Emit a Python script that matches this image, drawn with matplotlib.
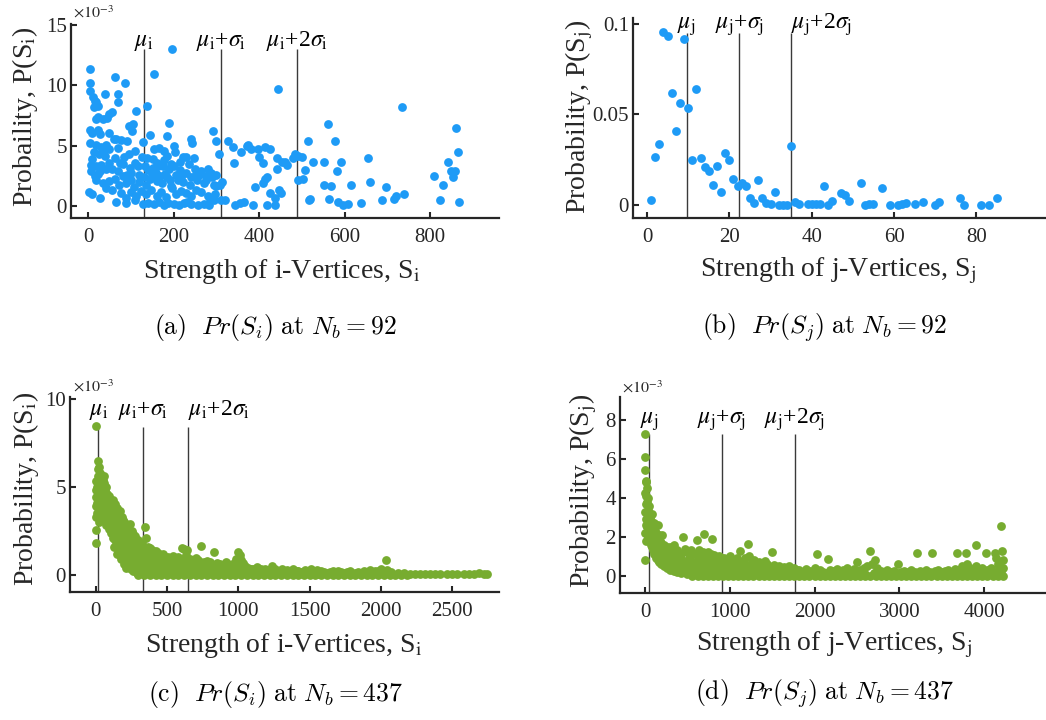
import numpy as np
import matplotlib.pyplot as plt

plt.rcParams['font.family'] = ['Liberation Serif', 'DejaVu Serif']
plt.rcParams['mathtext.fontset'] = 'stix'

W, H = 1046, 720
BLUE = '#1e9bf6'
GREEN = '#77ac30'
INK = '#262626'

# (S, P x 1e3) for i-vertices, Nb = 92
si_92 = [
    (196, 13.0), (5, 11.3), (155, 10.9), (63, 10.7), (86, 10.2), (4, 10.2), (4, 9.5), (445, 9.7), (735, 8.2),
    (12, 9.0), (16, 8.7), (22, 8.3), (14, 8.2), (19, 8.6), (40, 9.3), (71, 9.3), (71, 8.6), (137, 8.3), (112, 7.9),
    (57, 7.8), (50, 7.6), (44, 7.3), (36, 7.2), (24, 7.4), (19, 7.2), (190, 6.9), (106, 6.8), (96, 6.6), (102, 6.2),
    (4, 6.3), (10, 6.1), (24, 6.3), (27, 6.0), (48, 6.1), (65, 5.6), (145, 5.9), (184, 5.8), (202, 5.0), (240, 5.6),
    (243, 5.2), (291, 6.2), (327, 5.4), (339, 4.9), (358, 4.5), (371, 5.0), (306, 4.3), (300, 5.4), (560, 6.8),
    (860, 6.5), (514, 5.4), (577, 5.4), (5, 5.2), (18, 5.1), (30, 4.9), (42, 5.1), (50, 4.7), (34, 4.5), (26, 4.3),
    (14, 4.5), (128, 5.3), (155, 4.7), (165, 4.8), (178, 4.6), (204, 4.5), (222, 4.1), (228, 4.1), (248, 4.0),
    (126, 4.1), (138, 4.0), (151, 3.9), (375, 5.1), (381, 4.7), (397, 4.7), (414, 4.9), (426, 4.7), (400, 4.1),
    (408, 3.6), (441, 4.0), (453, 3.7), (465, 3.4), (460, 3.7), (480, 4.0), (485, 4.3), (492, 4.2), (500, 4.1),
    (526, 3.7), (552, 3.7), (592, 3.7), (581, 2.9), (508, 3.0), (492, 2.2), (502, 2.3), (655, 4.0), (660, 2.0),
    (614, 1.8), (552, 1.8), (567, 1.7), (696, 1.6), (414, 2.3), (418, 2.4), (410, 1.9), (390, 1.6), (425, 1.1),
    (436, 0.7), (447, 1.4), (450, 1.1), (441, 3.1), (365, 0.4), (385, 0.1), (418, 0.1), (437, 0.1), (517, 0.5),
    (520, 0.6), (564, 0.6), (584, 0.4), (597, 0.1), (607, 0.2), (638, 0.3), (687, 0.5), (716, 0.6), (720, 0.9),
    (739, 1.0), (808, 2.5), (824, 0.5), (831, 1.8), (841, 3.7), (849, 2.9), (857, 2.9), (853, 2.4), (864, 4.5),
    (868, 0.4), (341, 3.6),
    (6, 3.4), (18, 3.3), (30, 3.4), (6, 2.9), (22, 2.7), (42, 3.1), (57, 3.1), (69, 2.9), (50, 3.6), (85, 4.1),
    (81, 3.5), (97, 3.2), (116, 3.3), (132, 3.3), (140, 3.0), (151, 3.2), (163, 3.3), (174, 3.3), (190, 3.1),
    (202, 3.3), (214, 3.0), (230, 2.8), (250, 3.1), (265, 2.9), (281, 3.1), (288, 2.8), (276, 2.5),
    (18, 2.2), (34, 1.9), (50, 2.1), (64, 2.3), (73, 1.8), (81, 2.5), (89, 1.9), (100, 2.2), (108, 1.6), (120, 2.0),
    (135, 1.8), (145, 2.3), (160, 2.1), (172, 1.9), (185, 2.4), (195, 1.7), (210, 2.2), (222, 2.0), (238, 1.8),
    (255, 2.2), (270, 1.9), (295, 1.8),
    (2, 1.2), (8, 1.0), (27, 0.7), (42, 1.5), (57, 1.4), (77, 1.1), (89, 0.7), (100, 1.2), (112, 0.9),
    (124, 1.3), (135, 1.0), (148, 1.4), (160, 0.9), (171, 1.2), (183, 0.8), (196, 1.5), (206, 1.0), (218, 1.3),
    (230, 1.1), (241, 0.9), (253, 1.4), (265, 1.2), (280, 0.9), (296, 1.0), (300, 1.7), (308, 1.8),
    (65, 0.4), (89, 0.3), (110, 0.5), (128, 0.2), (141, 0.3), (155, 0.2), (165, 0.4), (177, 0.1), (188, 0.3),
    (200, 0.2), (212, 0.1), (225, 0.3), (241, 0.2), (258, 0.1), (270, 0.2), (282, 0.1), (295, 0.5), (310, 0.5),
    (320, 0.5), (344, 0.1), (356, 0.3), (285, 0.6), (232, 0.4),
    (110, 3.6), (120, 2.6), (130, 2.4), (150, 2.6), (158, 2.8), (168, 2.5), (180, 2.7), (192, 2.2), (205, 2.6),
    (218, 2.4), (100, 2.8), (90, 2.6), (75, 3.6), (62, 4.0), (40, 4.2), (10, 3.9), (15, 2.5), (28, 2.9),
    (110, 4.6), (95, 4.3), (70, 4.8), (60, 5.6), (78, 5.5), (90, 5.4), (160, 3.6), (178, 3.8), (195, 3.5),
    (185, 4.2), (215, 3.7), (235, 3.5), (260, 2.6), (275, 2.2), (290, 2.4), (250, 2.5), (240, 2.4), (300, 2.6),
    (313, 2.0),
]

# (S, P) for j-vertices, Nb = 92
sj_92 = [
    (1, 0.0029), (2, 0.0263), (3, 0.0337), (4, 0.0954), (5, 0.0936), (6, 0.0617), (7, 0.041), (8, 0.0564),
    (9, 0.0917), (10, 0.0538), (11, 0.025), (12, 0.064), (13, 0.0258), (14, 0.0212), (15, 0.0186), (16, 0.011),
    (17, 0.0217), (18, 0.0070), (19, 0.0287), (20, 0.025), (21, 0.0144), (22, 0.0107), (23, 0.012), (24, 0.0103),
    (25, 0.0037), (26, 0.0011), (27, 0.0136), (28, 0.0037), (29, 0.0009), (30, 0.0006), (31, 0.0070), (32, 0.0),
    (33, 0.0), (34, 0.0), (35, 0.0328), (36, 0.0015), (37, 0.0004), (39, 0.0008), (40, 0.0004), (41, 0.0004),
    (42, 0.0008), (43, 0.0107), (44, 0.0), (45, 0.0022), (47, 0.0064), (48, 0.0057), (49, 0.0022), (52, 0.0122),
    (53, 0.0), (54, 0.0004), (55, 0.0004), (57, 0.0096), (59, 0.0), (61, 0.0), (62, 0.0004), (63, 0.0009),
    (65, 0.0004), (67, 0.0015), (70, 0.0), (71, 0.0015), (76, 0.0037), (77, 0.0), (81, 0.0), (83, 0.0),
    (85, 0.0038),
]

# (S, P x 1e3) for i-vertices, Nb = 437
si_437 = [
    (0, 8.44), (14, 6.47), (19, 6.0), (25, 6.1), (33, 5.8), (42, 5.6), (50, 5.4), (55, 5.6), (60, 5.2), (0, 5.3),
    (0, 4.4), (2, 3.9), (0, 3.3), (0, 2.55), (0, 1.8), (5, 4.8), (8, 4.1), (10, 3.5), (12, 5.0), (18, 4.6),
    (22, 5.3), (28, 4.9), (35, 5.1), (45, 5.0), (65, 4.8), (72, 5.0), (80, 4.6), (88, 4.4), (95, 4.5), (105, 4.1),
    (115, 3.9), (124, 4.25), (132, 4.0), (140, 3.7), (150, 3.8), (160, 3.5), (170, 3.6), (181, 3.3), (190, 3.1),
    (200, 3.0), (210, 2.9), (220, 2.7), (230, 2.8), (240, 2.9), (252, 2.5), (262, 2.3), (275, 2.2), (288, 1.9),
    (300, 2.0), (310, 1.8), (322, 1.8), (345, 2.74), (353, 2.08), (365, 1.6), (380, 1.5), (395, 1.4), (410, 1.3),
    (425, 1.35), (439, 1.22), (455, 1.1), (470, 1.2), (485, 1.0), (497, 0.85), (510, 1.0), (525, 0.95),
    (540, 1.05), (560, 0.9), (580, 1.0), (603, 1.5), (620, 1.45), (638, 1.4), (660, 0.9), (680, 0.8), (700, 0.95),
    (720, 0.85), (738, 1.65), (760, 0.7), (780, 0.8), (800, 0.75), (829, 1.32), (848, 0.66), (870, 0.6),
    (890, 0.55), (910, 0.7), (930, 0.6), (950, 0.5), (970, 0.65), (985, 0.9), (1000, 1.3), (1012, 1.1),
    (1020, 0.85), (1030, 0.66), (1045, 0.5), (1070, 0.4), (1100, 0.35), (1130, 0.45), (1160, 0.3), (1190, 0.35),
    (1236, 0.5), (1260, 0.3), (1306, 0.3), (1340, 0.25), (1380, 0.3), (1420, 0.2), (1470, 0.25), (1510, 0.35),
    (1530, 0.2), (1580, 0.2), (1640, 0.15), (1700, 0.2), (1760, 0.15), (1820, 0.1), (1880, 0.2), (1920, 0.25),
    (1960, 0.2), (2000, 0.3), (2032, 0.83), (2045, 0.25),
    (20, 3.0), (25, 3.8), (30, 4.3), (35, 3.6), (40, 4.0), (45, 3.3), (50, 4.5), (55, 3.9), (60, 3.1), (65, 4.1),
    (70, 3.5), (75, 2.8), (80, 3.9), (85, 3.2), (90, 2.6), (95, 3.7), (100, 3.0), (105, 2.4), (110, 3.4),
    (115, 2.7), (120, 2.1), (125, 3.2), (130, 1.6), (135, 2.5), (140, 3.0), (145, 1.9), (150, 1.2), (155, 2.8),
    (160, 2.2), (165, 1.5), (170, 2.9), (175, 0.9), (180, 2.0), (185, 1.3), (190, 2.5), (195, 0.6), (200, 1.7),
    (205, 2.2), (210, 1.0), (215, 0.4), (220, 1.9), (225, 1.4), (230, 0.7), (235, 2.0), (240, 1.2), (245, 0.3),
    (250, 1.7), (255, 0.8), (260, 1.4), (265, 0.2), (270, 1.0), (275, 1.6), (280, 0.5), (285, 1.2), (290, 0.1),
    (295, 0.8), (300, 1.5), (305, 0.3), (310, 1.1), (320, 0.6), (330, 1.3), (340, 0.2), (350, 0.9), (360, 1.2),
    (370, 0.4), (380, 0.8), (390, 1.1), (400, 0.3), (410, 0.7), (420, 1.0), (430, 0.5), (440, 0.2), (450, 0.8),
    (460, 0.4), (470, 0.9), (480, 0.6), (490, 0.2), (500, 0.5), (520, 0.7), (535, 0.3), (550, 0.6), (565, 0.4),
    (580, 0.7), (595, 0.2), (610, 0.5), (625, 0.8), (640, 0.3), (655, 0.6), (670, 0.4), (690, 0.5), (705, 0.2),
    (720, 0.6), (740, 0.4), (755, 0.3), (770, 0.5), (790, 0.2), (810, 0.4), (830, 0.3), (850, 0.2), (870, 0.35),
    (890, 0.15), (910, 0.3), (930, 0.2), (950, 0.1), (970, 0.3), (990, 0.5), (1005, 0.7), (1025, 0.4),
    (1050, 0.2), (1080, 0.15), (1110, 0.2), (1150, 0.1), (1200, 0.15), (1250, 0.1), (1300, 0.15), (1350, 0.1),
    (1400, 0.1), (1450, 0.05), (1500, 0.1), (1560, 0.05), (1620, 0.1), (1680, 0.05), (1740, 0.1), (1800, 0.05),
    (1860, 0.1), (1940, 0.1), (1990, 0.1),
    (15, 5.6), (25, 4.4), (30, 5.0), (38, 4.8), (42, 4.2), (48, 5.2), (52, 3.6), (58, 4.6), (62, 3.8), (68, 4.3),
    (72, 3.1), (78, 4.0), (82, 3.4), (88, 3.8), (92, 3.0), (98, 3.3), (102, 2.7), (108, 3.7), (112, 2.9),
    (118, 3.1), (122, 2.5), (128, 3.5), (134, 2.0), (138, 2.8), (144, 3.3), (148, 2.2), (152, 1.6), (158, 3.1),
    (162, 1.8), (168, 2.6), (172, 1.1), (178, 2.3), (182, 1.6), (188, 2.8), (192, 1.0), (198, 2.0), (202, 1.3),
    (208, 2.5), (212, 0.7), (218, 1.6), (222, 2.3), (228, 1.0), (232, 1.8), (238, 0.5), (242, 1.5), (248, 2.1),
    (252, 0.9), (258, 1.1), (262, 1.8), (268, 0.6), (272, 1.3), (278, 0.9), (282, 1.7), (288, 0.4), (292, 1.5),
    (298, 1.0), (302, 0.7), (308, 1.4), (315, 0.1), (325, 1.0), (335, 0.7), (345, 1.5), (355, 0.3), (365, 1.0),
    (315, 0.8), (335, 0.5), (355, 0.45), (375, 1.0), (395, 0.6), (415, 0.35), (435, 0.9), (455, 0.5), (475, 0.3),
    (495, 0.7), (515, 0.35), (530, 0.8), (545, 0.25), (560, 0.5), (575, 0.85), (590, 0.4), (605, 0.9),
    (615, 0.3), (630, 1.1), (645, 0.55), (665, 0.25), (685, 0.6), (700, 0.4), (715, 0.3), (730, 0.75),
    (745, 0.2), (765, 0.45), (785, 0.6), (805, 0.3), (825, 0.55), (845, 0.4), (865, 0.15), (880, 0.45),
    (900, 0.3), (920, 0.45), (940, 0.35), (960, 0.25), (980, 0.4), (995, 0.2), (1015, 0.3), (1035, 0.2),
    (1060, 0.3), (1090, 0.3), (1120, 0.1), (1140, 0.3), (1170, 0.2), (1210, 0.25), (1230, 0.1), (1280, 0.2),
    (1320, 0.15), (1360, 0.2), (1410, 0.2), (1440, 0.15), (1490, 0.15), (1550, 0.25), (1600, 0.15), (1660, 0.2),
    (1720, 0.15), (1780, 0.2), (1840, 0.15), (1900, 0.1), (1980, 0.2), (2070, 0.15), (2120, 0.1), (2160, 0.1),
    (2200, 0.05),
    (300, 0.0), (340, 0.0), (380, 0.0), (420, 0.0), (460, 0.0), (500, 0.0), (540, 0.0), (580, 0.0), (620, 0.0),
    (660, 0.0), (700, 0.0), (740, 0.0), (780, 0.0), (820, 0.0), (860, 0.0), (900, 0.0), (940, 0.0), (980, 0.0),
    (1020, 0.0), (1060, 0.0), (1100, 0.0), (1140, 0.0), (1180, 0.0), (1220, 0.0), (1260, 0.0), (1300, 0.0),
    (1340, 0.0), (1380, 0.0), (1420, 0.0), (1460, 0.0), (1500, 0.0), (1540, 0.0), (1580, 0.0), (1620, 0.0),
    (1660, 0.0), (1700, 0.0), (1740, 0.0), (1780, 0.0), (1820, 0.0), (1860, 0.0), (1900, 0.0), (1940, 0.0),
    (1980, 0.0), (2020, 0.0), (2060, 0.0), (2100, 0.0), (2140, 0.0), (2180, 0.0), (2240, 0.05), (2275, 0.05),
    (2310, 0.05), (2345, 0.05), (2380, 0.05), (2410, 0.05), (2460, 0.05), (2495, 0.05), (2530, 0.05),
    (2580, 0.05), (2615, 0.05), (2650, 0.05), (2690, 0.1), (2720, 0.05), (2745, 0.05),
]

# (S, P x 1e3) for j-vertices, Nb = 437
sj_437 = [
    (0, 7.3), (0, 6.1), (5, 5.46), (10, 4.9), (12, 4.8), (0, 4.26), (8, 4.1), (12, 3.7), (0, 2.2), (0, 0.82),
    (15, 1.77), (15, 2.9), (20, 4.5), (25, 3.8), (30, 3.4), (35, 4.0), (40, 3.1), (20, 2.5), (30, 2.0), (5, 3.3),
    (10, 2.6),
    (50, 3.6), (60, 3.0), (70, 2.8), (80, 3.2), (90, 2.6), (100, 2.5), (110, 2.7), (120, 2.3), (130, 2.2),
    (140, 2.0), (150, 2.6), (160, 1.9), (170, 2.1), (180, 1.8), (190, 1.7), (200, 2.1), (210, 1.5), (220, 1.6),
    (240, 1.4), (260, 1.5), (280, 1.3), (300, 1.5),
    (50, 1.9), (60, 2.2), (70, 1.6), (80, 1.9), (90, 1.3), (100, 1.6), (110, 1.1), (120, 1.4), (130, 0.9),
    (140, 1.2), (150, 0.8), (160, 1.1), (170, 0.7), (180, 1.0), (190, 0.6), (200, 0.9), (220, 0.5), (240, 0.7),
    (260, 0.4), (280, 0.6), (300, 0.3), (320, 0.5), (340, 0.25), (360, 0.4), (380, 0.2), (400, 0.3), (430, 0.15),
    (460, 0.25), (500, 0.1), (540, 0.15),
    (45, 2.6), (55, 2.4), (65, 1.8), (75, 2.2), (85, 1.5), (95, 1.9), (105, 1.3), (115, 2.0), (125, 1.7),
    (135, 1.4), (145, 1.6), (155, 1.3), (165, 1.5), (175, 1.2), (185, 1.3), (195, 1.1), (205, 1.2), (215, 0.9),
    (230, 1.1), (250, 1.0), (270, 0.9), (290, 1.1), (310, 0.8), (330, 0.95), (350, 0.8), (370, 0.55),
    (395, 0.75), (415, 0.35), (445, 0.45), (475, 0.2), (520, 0.3), (560, 0.25),
    (320, 1.2), (341, 1.6), (360, 1.0), (380, 1.3), (400, 0.9), (420, 1.1), (451, 2.0), (440, 0.8), (470, 1.4),
    (480, 0.6), (500, 1.2), (520, 0.9), (540, 1.3), (560, 0.7), (580, 1.1), (608, 1.85), (600, 0.5), (620, 1.0),
    (640, 1.3), (660, 0.8), (680, 1.2), (694, 2.13), (700, 0.6), (720, 1.0), (740, 1.2), (760, 0.7), (780, 1.1),
    (796, 1.9), (800, 0.5), (815, 1.08), (830, 0.9), (850, 0.6), (870, 1.0), (890, 0.7), (910, 0.4), (930, 0.9),
    (950, 0.6), (970, 0.8), (1000, 1.03), (1000, 0.5),
    (330, 0.7), (350, 0.5), (370, 0.75), (390, 0.55), (410, 0.6), (430, 0.45), (450, 0.6), (490, 0.4),
    (510, 0.55), (530, 0.35), (550, 0.5), (570, 0.3), (590, 0.45), (630, 0.3), (650, 0.45), (670, 0.25),
    (690, 0.4), (710, 0.2), (730, 0.35), (750, 0.2), (770, 0.3), (790, 0.15), (820, 0.25), (840, 0.1),
    (860, 0.2), (880, 0.1), (900, 0.15), (920, 0.05), (940, 0.2), (960, 0.05), (980, 0.15),
    (600, 0.15), (640, 0.6), (680, 0.15), (720, 0.55), (760, 0.15), (800, 0.8), (840, 0.45), (880, 0.5),
    (920, 0.65), (960, 0.35), (990, 0.7), (610, 0.75), (650, 0.95), (700, 0.85), (750, 0.9), (790, 0.55),
    (860, 0.75), (900, 0.9), (940, 0.5),
    (1040, 0.8), (1080, 0.9), (1117, 1.29), (1150, 0.7), (1180, 0.9), (1215, 1.65), (1230, 1.0), (1260, 0.7),
    (1290, 0.8), (1320, 0.6), (1350, 0.7), (1380, 0.5), (1410, 0.75), (1440, 0.6), (1470, 0.45), (1497, 1.2),
    (1520, 0.55), (1550, 0.4), (1580, 0.5), (1610, 0.35), (1640, 0.45), (1670, 0.3), (1700, 0.5), (1730, 0.3),
    (1760, 0.4), (1790, 0.3),
    (1020, 0.3), (1060, 0.45), (1100, 0.25), (1140, 0.4), (1180, 0.2), (1220, 0.35), (1260, 0.2), (1300, 0.3),
    (1340, 0.15), (1380, 0.25), (1420, 0.1), (1460, 0.2), (1500, 0.1), (1540, 0.15), (1580, 0.05), (1620, 0.1),
    (1660, 0.05), (1700, 0.1), (1740, 0.05), (1780, 0.1),
    (1010, 0.15), (1050, 0.6), (1090, 0.1), (1120, 0.6), (1160, 0.1), (1200, 0.55), (1240, 0.1), (1280, 0.45),
    (1320, 0.1), (1360, 0.45), (1400, 0.2), (1430, 0.35), (1480, 0.15), (1520, 0.3), (1560, 0.15), (1600, 0.25),
    (1640, 0.15), (1680, 0.25), (1720, 0.15), (1750, 0.2),
    (1820, 0.3), (1860, 0.2), (1900, 0.35), (1950, 0.25), (2000, 0.4), (2031, 1.12), (2060, 0.3), (2100, 0.2),
    (2160, 0.88), (2180, 0.3), (2220, 0.25), (2260, 0.35), (2300, 0.2), (2340, 0.3), (2380, 0.4), (2420, 0.25),
    (2460, 0.35), (2501, 0.7), (2540, 0.3), (2580, 0.4), (2620, 0.5), (2654, 1.29), (2680, 0.6), (2713, 0.82),
    (2740, 0.4), (2780, 0.25), (2820, 0.2), (2860, 0.3), (2900, 0.2), (2940, 0.25), (2979, 0.62), (3020, 0.2),
    (3060, 0.25), (3100, 0.2), (3140, 0.3), (3180, 0.2), (3214, 1.17), (3240, 0.25), (3280, 0.2), (3320, 0.3),
    (3360, 0.2), (3391, 1.17), (3420, 0.25), (3460, 0.3), (3500, 0.2), (3540, 0.25), (3580, 0.3), (3620, 0.2),
    (3660, 0.35), (3677, 1.17), (3700, 0.3), (3740, 0.5), (3760, 0.4), (3791, 1.17), (3800, 0.6), (3830, 0.4),
    (3860, 0.3), (3908, 1.56), (3900, 0.5), (3940, 0.3), (3980, 0.4), (4018, 1.17), (4040, 0.3), (4080, 0.4),
    (4124, 1.17), (4143, 0.9), (4160, 0.6), (4180, 0.5), (4202, 2.54), (4210, 1.25), (4220, 0.8), (4229, 0.4),
    (4190, 0.2),
    (1840, 0.1), (1920, 0.15), (1990, 0.1), (2080, 0.1), (2140, 0.15), (2200, 0.1), (2280, 0.1), (2360, 0.15),
    (2440, 0.1), (2520, 0.15), (2600, 0.1), (2700, 0.15), (2760, 0.1), (2840, 0.1), (2920, 0.1), (3000, 0.15),
    (3120, 0.1), (3200, 0.15), (3300, 0.1), (3400, 0.1), (3480, 0.15), (3600, 0.1), (3720, 0.15), (3780, 0.2),
    (3880, 0.15), (3960, 0.15), (4060, 0.15), (4120, 0.2), (4200, 0.15),
    (560, 0.0), (620, 0.0), (680, 0.0), (740, 0.0), (800, 0.0), (860, 0.0), (920, 0.0), (980, 0.0), (1040, 0.0),
    (1100, 0.0), (1160, 0.0), (1220, 0.0), (1280, 0.0), (1340, 0.0), (1400, 0.0), (1460, 0.0), (1520, 0.0),
    (1580, 0.0), (1640, 0.0), (1700, 0.0), (1760, 0.0), (1820, 0.0), (1880, 0.0), (1940, 0.0), (2000, 0.0),
    (2060, 0.0), (2120, 0.0), (2180, 0.0), (2240, 0.0), (2300, 0.0), (2360, 0.0), (2420, 0.0), (2480, 0.0),
    (2540, 0.0), (2600, 0.0), (2660, 0.0), (2720, 0.0), (2780, 0.0), (2840, 0.0), (2900, 0.0), (2960, 0.0),
    (3020, 0.0), (3080, 0.0), (3140, 0.0), (3200, 0.0), (3260, 0.0), (3320, 0.0), (3380, 0.0), (3440, 0.0),
    (3500, 0.0), (3560, 0.0), (3620, 0.0), (3680, 0.0), (3740, 0.0), (3800, 0.0), (3860, 0.0), (3920, 0.0),
    (3980, 0.0), (4040, 0.0), (4100, 0.0), (4160, 0.0), (4220, 0.0),
]

# mean, mean+std, mean+2std of the strengths
marks_i_92 = [130, 310, 488]
marks_j_92 = [9.6, 22.4, 35.0]
marks_i_437 = [18, 329, 645]
marks_j_437 = [47, 909, 1764]


def mu_labels(v):
    return [r'$\mu_{\rm %s}$' % v,
            r'$\mu_{\rm %s}$+$\sigma_{\rm %s}$' % (v, v),
            r'$\mu_{\rm %s}$+2$\sigma_{\rm %s}$' % (v, v)]


fig = plt.figure(figsize=(W / 100, H / 100), dpi=100)


def fig_text(px, py, s, **kw):
    return fig.text(px / W, 1 - py / H, s, **kw)


def panel(box, pts, color, xlim, ylim, xticks, yticks, yticklabels,
          marks, mark_top, label_y, label_ha, var):
    x0, y0, x1, y1 = box
    ax = fig.add_axes([x0 / W, 1 - y1 / H, (x1 - x0) / W, (y1 - y0) / H])
    s, p = np.array(pts, dtype=float).T
    ax.scatter(s, p, s=40, color=color, linewidths=0, zorder=3)
    ax.vlines(marks, ylim[0], mark_top, color='#3a3a3a', lw=1.0, zorder=2)
    for x, txt, ha in zip(marks, mu_labels(var), label_ha):
        ax.text(x, label_y, txt, ha=ha, va='baseline', fontsize=17, color='black')
    ax.set_xlim(*xlim)
    ax.set_ylim(*ylim)
    ax.set_xticks(xticks)
    ax.set_yticks(yticks)
    ax.set_yticklabels(yticklabels)
    for side in ('top', 'right'):
        ax.spines[side].set_visible(False)
    for side in ('left', 'bottom'):
        ax.spines[side].set_linewidth(1.6)
        ax.spines[side].set_color(INK)
    ax.tick_params(direction='in', length=4, width=1.5, color=INK,
                   labelsize=15, labelcolor=INK)
    ax.tick_params(axis='x', pad=7)
    ax.tick_params(axis='y', pad=3)
    ax.patch.set_alpha(0)
    return ax


# (a)
panel((71, 24, 499, 218), si_92, BLUE, (-40, 961), (-0.95, 15.05),
      [0, 200, 400, 600, 800], [0, 5, 10, 15], ['0', '5', '10', '15'],
      marks_i_92, 13.0, 13.25, ['center'] * 3, 'i')
# (b)
panel((633, 18, 1046, 218), sj_92, BLUE, (-3.4, 96.9), (-0.0072, 0.1033),
      [0, 20, 40, 60, 80], [0, 0.05, 0.1], ['0', '0.05', '0.1'],
      marks_j_92, 0.0952, 0.0975, ['center', 'center', 'left'], 'j')
# (c)
panel((70, 397, 499, 592), si_437, GREEN, (-180, 2827), (-0.98, 10.1),
      [0, 500, 1000, 1500, 2000, 2500], [0, 5, 10], ['0', '5', '10'],
      marks_i_437, 8.4, 9.05, ['center', 'center', 'left'], 'i')
# (d)
panel((620, 397, 1046, 593), sj_437, GREEN, (-295, 4731), (-0.89, 9.2),
      [0, 1000, 2000, 3000, 4000], [0, 2, 4, 6, 8], ['0', '2', '4', '6', '8'],
      marks_j_437, 7.31, 7.8, ['center'] * 3, 'j')

# axis multipliers
for px, py in [(73, 18), (73, 392), (622, 393)]:
    fig_text(px, py, r'$\times10^{-3}$', fontsize=11.5, color=INK, va='baseline')

# axis titles
ylab = [(25, 117, r'Probaility, P(S$_{\rm i}$)'),
        (579, 117, r'Probability, P(S$_{\rm j}$)'),
        (26, 489, r'Probability, P(S$_{\rm i}$)'),
        (583, 491, r'Probability, P(S$_{\rm j}$)')]
for px, py, txt in ylab:
    fig_text(px, py, txt, rotation=90, ha='center', va='center', fontsize=20, color=INK)

xlab = [(282, 271, r'Strength of i-Vertices, S$_{\rm i}$'),
        (838, 271, r'Strength of j-Vertices, S$_{\rm j}$'),
        (284, 645, r'Strength of i-Vertices, S$_{\rm i}$'),
        (834, 645, r'Strength of j-Vertices, S$_{\rm j}$')]
for px, py, txt in xlab:
    fig_text(px, py, txt, ha='center', va='center', fontsize=20, color=INK)

# sub-figure captions
caps = [(275, 328, r'$\mathrm{(a)}\ \ Pr(S_i)\ \mathrm{at}\ N_b = 92$'),
        (825, 328, r'$\mathrm{(b)}\ \ Pr(S_j)\ \mathrm{at}\ N_b = 92$'),
        (276, 694, r'$\mathrm{(c)}\ \ Pr(S_i)\ \mathrm{at}\ N_b = 437$'),
        (825, 694, r'$\mathrm{(d)}\ \ Pr(S_j)\ \mathrm{at}\ N_b = 437$')]
for px, py, txt in caps:
    fig_text(px, py, txt, ha='center', va='center', fontsize=18.5, math_fontfamily='cm')

fig.savefig('out.png', dpi=100)
